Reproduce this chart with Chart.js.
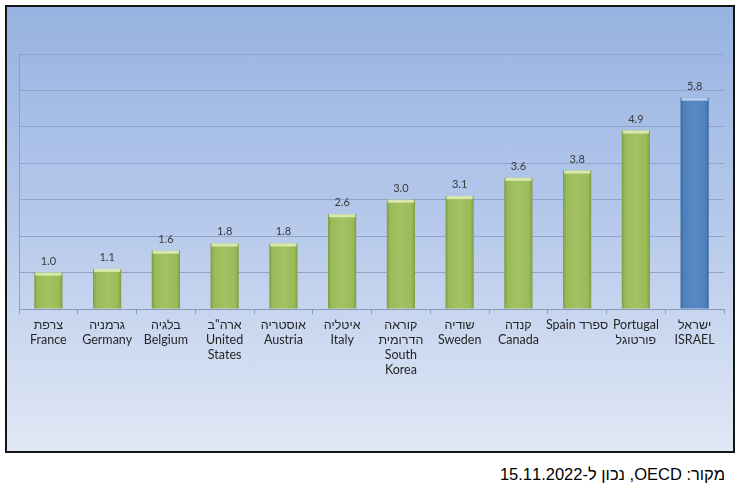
<!DOCTYPE html>
<html>
<head>
<meta charset="utf-8">
<script src="https://cdn.jsdelivr.net/npm/chart.js@4.4.0/dist/chart.umd.min.js"></script>
<style>
body { margin: 0; background: #fff; width: 747px; height: 501px; position: relative; overflow: hidden; }
#frame {
  position: absolute; left: 5px; top: 5px; width: 726px; height: 444px;
  border: 2px solid #151515;
  background: linear-gradient(to bottom, #97b3e1 0%, #b3c7ea 45%, #e1e8f5 100%);
}
#wrap { position: absolute; left: 0; top: 0; width: 726px; height: 444px; }
#source {
  position: absolute; right: 22px; top: 465px;
  font-family: "Liberation Sans", Arial, sans-serif; font-size: 16.5px; color: #000;
  direction: rtl; white-space: nowrap;
}
</style>
</head>
<body>
<div id="frame"><div id="wrap"><canvas id="chart"></canvas></div></div>
<div id="source">מקור: OECD, נכון ל-15.11.2022</div>
<script>
// categories (hebrew + english, one array entry per line)
var countries = [
  ['צרפת', 'France'],
  ['גרמניה', 'Germany'],
  ['בלגיה', 'Belgium'],
  ['ארה"ב', 'United', 'States'],
  ['אוסטריה', 'Austria'],
  ['איטליה', 'Italy'],
  ['קוראה', 'הדרומית', 'South', 'Korea'],
  ['שודיה', 'Sweden'],
  ['קנדה', 'Canada'],
  ['Spain ספרד'],
  ['Portugal', 'פורטוגל'],
  ['ישראל', 'ISRAEL']
];
var values = [1.0, 1.1, 1.6, 1.8, 1.8, 2.6, 3.0, 3.1, 3.6, 3.8, 4.9, 5.8];
var highlight = 'ISRAEL';

var barPct = 0.48;

function isHi(i) {
  return countries[i][countries[i].length - 1] === highlight;
}

// bevel look: horizontal gradient per bar, light cap on top, value label
var barExtras = {
  id: 'barExtras',
  beforeDatasetsDraw: function(chart) {
    var ctx = chart.ctx;
    chart.getDatasetMeta(0).data.forEach(function(bar, i) {
      var half = bar.width / 2;
      var g = ctx.createLinearGradient(bar.x - half, 0, bar.x + half, 0);
      var c = isHi(i) ? ['#3d6aa0', '#4f81bd', '#5789c4'] : ['#7f9c45', '#9bbb59', '#a3c262'];
      g.addColorStop(0, c[0]);
      g.addColorStop(0.12, c[1]);
      g.addColorStop(0.5, c[2]);
      g.addColorStop(0.88, c[1]);
      g.addColorStop(1, c[0]);
      bar.options.backgroundColor = g;
    });
  },
  afterDatasetsDraw: function(chart) {
    var ctx = chart.ctx;
    ctx.save();
    chart.getDatasetMeta(0).data.forEach(function(bar, i) {
      var half = bar.width / 2;
      ctx.fillStyle = isHi(i) ? '#b4cde6' : '#d8e8ae';
      ctx.fillRect(bar.x - half + 1, bar.y, bar.width - 2, 3);
      ctx.fillStyle = '#3a3a3a';
      ctx.font = '11px Lato, "Open Sans", sans-serif';
      ctx.textAlign = 'center';
      ctx.textBaseline = 'bottom';
      ctx.fillText(values[i].toFixed(1), bar.x, bar.y - 6);
    });
    ctx.restore();
  }
};

new Chart(document.getElementById('chart'), {
  type: 'bar',
  data: {
    labels: countries,
    datasets: [{
      data: values,
      // scriptable so every bar gets its own options object
      backgroundColor: function(c) { return isHi(c.dataIndex) ? '#4f81bd' : '#9bbb59'; },
      borderWidth: 0,
      barPercentage: barPct,
      categoryPercentage: 1.0
    }]
  },
  options: {
    responsive: true,
    maintainAspectRatio: false,
    animation: false,
    layout: { padding: { top: 47, left: 12, right: 9, bottom: 71 } },
    plugins: { legend: { display: false }, tooltip: { enabled: false } },
    scales: {
      x: {
        grid: { drawOnChartArea: false, drawTicks: true, tickLength: 5, color: '#8a9bbb' },
        border: { color: '#8a9bbb' },
        ticks: {
          color: '#262626',
          font: { family: 'Lato, "Liberation Sans", sans-serif', size: 12.5, lineHeight: 1.2 },
          maxRotation: 0,
          autoSkip: false,
          padding: 3
        }
      },
      y: {
        min: 0,
        max: 7,
        ticks: { display: false, stepSize: 1 },
        grid: { color: '#8ea4cc', drawTicks: false },
        border: { color: '#8fa0c0' }
      }
    }
  },
  plugins: [barExtras]
});
</script>
</body>
</html>
